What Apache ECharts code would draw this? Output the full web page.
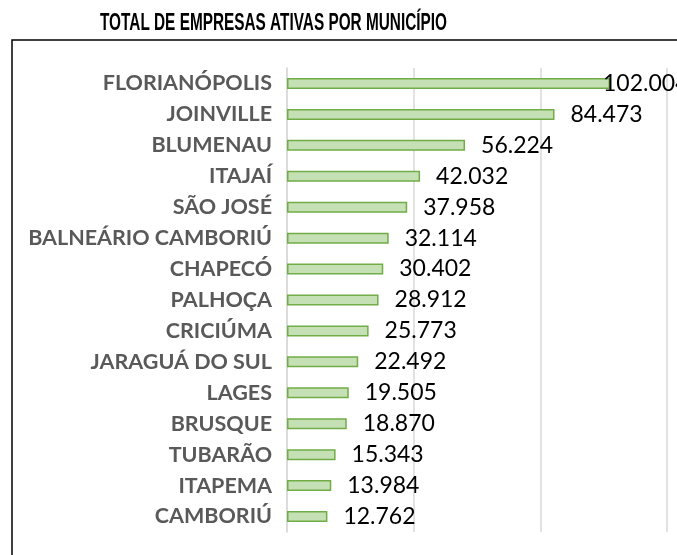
<!DOCTYPE html>
<html>
<head>
<meta charset="utf-8">
<script src="https://cdn.jsdelivr.net/npm/echarts@6/dist/echarts.min.js"></script>
<style>
  html, body { margin: 0; padding: 0; background: #fff; }
  #chart { width: 677px; height: 555px; }
</style>
</head>
<body>
<div id="chart"></div>
<script>
// municipios, de cima para baixo
const municipios = ['FLORIANÓPOLIS', 'JOINVILLE', 'BLUMENAU', 'ITAJAÍ', 'SÃO JOSÉ',
  'BALNEÁRIO CAMBORIÚ', 'CHAPECÓ', 'PALHOÇA', 'CRICIÚMA', 'JARAGUÁ DO SUL',
  'LAGES', 'BRUSQUE', 'TUBARÃO', 'ITAPEMA', 'CAMBORIÚ']
const empresas = [102004, 84473, 56224, 42032, 37958, 32114, 30402, 28912,
  25773, 22492, 19505, 18870, 15343, 13984, 12762]

const titulo = 'TOTAL DE EMPRESAS ATIVAS POR MUNICÍPIO'

const fmt = v => String(v).replace(/\B(?=(\d{3})+(?!\d))/g, '.')

// titulo em fonte "narrow": mede e comprime na horizontal
const titleFont = 'bold 24px "Liberation Sans"'
const ctx = document.createElement('canvas').getContext('2d')
ctx.font = titleFont
const titleScale = 347 / ctx.measureText(titulo).width

const chart = echarts.init(document.getElementById('chart'))

chart.setOption({
  animation: false,
  graphic: [{
    type: 'rect',
    shape: { x: 12, y: 40, width: 720, height: 540 },
    style: { fill: 'none', stroke: '#000', lineWidth: 1.5 }
  }, {
    type: 'text',
    x: 100,
    y: 23,
    scaleX: titleScale,
    style: {
      text: titulo,
      font: titleFont,
      fill: '#000',
      verticalAlign: 'middle'
    }
  }],
  grid: { left: 287, top: 68, width: 380, height: 464 },
  xAxis: {
    type: 'value',
    min: 0,
    max: 120000,
    interval: 40000,
    axisLabel: { show: false },
    axisLine: { show: false },
    axisTick: { show: false },
    splitLine: { lineStyle: { color: '#d9d9d9', width: 1.5 } }
  },
  yAxis: {
    type: 'category',
    inverse: true,
    data: municipios,
    axisTick: { show: false },
    axisLine: { lineStyle: { color: '#d9d9d9', width: 1.5 } },
    axisLabel: {
      margin: 15,
      fontFamily: 'Lato',
      fontWeight: 'bold',
      fontSize: 21.5,
      color: '#595959'
    }
  },
  series: [{
    type: 'bar',
    barWidth: 11,
    data: empresas.map((v, i) => i === 0
      ? { value: v, label: { distance: -7 } }
      : v),
    itemStyle: { color: '#c5e0b4', borderColor: '#70ad47', borderWidth: 1.5 },
    label: {
      show: true,
      position: 'right',
      distance: 16,
      fontFamily: 'Lato',
      fontSize: 23,
      color: '#000',
      formatter: p => fmt(p.value)
    }
  }]
})
</script>
</body>
</html>
